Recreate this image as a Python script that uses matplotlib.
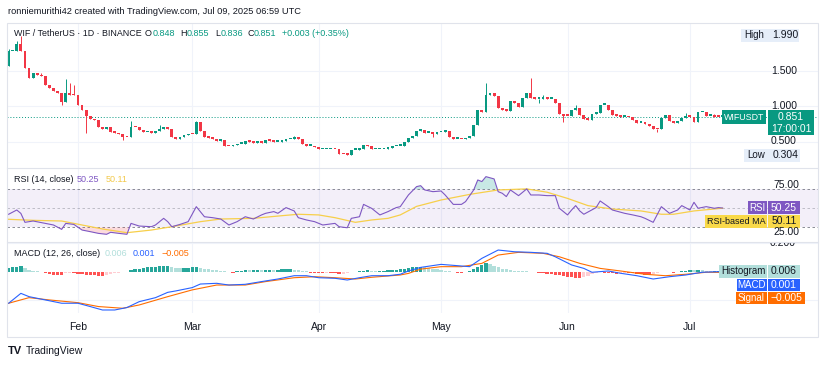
import numpy as np
import pandas as pd
import matplotlib
matplotlib.use("Agg")
import matplotlib.pyplot as plt
import matplotlib.dates as mdates
from matplotlib.patches import Rectangle
from matplotlib.transforms import blended_transform_factory

plt.rcParams['font.family'] = ['Liberation Sans', 'DejaVu Sans']

# ---- data (WIF/USDT daily, from 2025-01-15) ----
start = '2025-01-15'
first_open = 1.56
closes = [1.77, 1.77, 1.87, 1.78, 1.53, 1.39, 1.46, 1.43, 1.42, 1.30,
          1.25, 1.21, 1.18, 1.06, 1.18, 1.16, 1.15, 1.01, 0.94, 0.86,
          0.82, 0.80, 0.71, 0.68, 0.71, 0.64, 0.62, 0.60, 0.57, 0.56,
          0.71, 0.70, 0.66, 0.63, 0.63, 0.62, 0.65, 0.67, 0.71, 0.67,
          0.56, 0.53, 0.57, 0.59, 0.61, 0.60, 0.77, 0.65, 0.56, 0.55,
          0.54, 0.51, 0.52, 0.44, 0.43, 0.45, 0.47, 0.47, 0.51, 0.50,
          0.48, 0.50, 0.48, 0.52, 0.51, 0.50, 0.50, 0.51, 0.53, 0.53,
          0.56, 0.53, 0.46, 0.44, 0.44, 0.42, 0.39, 0.39, 0.39, 0.40,
          0.39, 0.33, 0.32, 0.31, 0.38, 0.38, 0.40, 0.455, 0.43, 0.39,
          0.39, 0.39, 0.40, 0.41, 0.43, 0.44, 0.44, 0.50, 0.55, 0.575,
          0.65, 0.66, 0.62, 0.62, 0.61, 0.63, 0.64, 0.65, 0.56, 0.54,
          0.54, 0.53, 0.55, 0.58, 0.73, 0.94, 0.91, 1.155, 1.18, 1.14,
          0.97, 0.94, 0.93, 1.07, 1.04, 0.98, 1.11, 1.19, 1.11, 1.10,
          1.10, 1.11, 1.10, 1.10, 1.04, 0.887, 0.865, 0.86, 0.94, 0.97,
          0.88, 0.82, 0.81, 0.89, 0.90, 1.02, 1.02, 0.94, 0.88, 0.86,
          0.85, 0.85, 0.84, 0.80, 0.76, 0.76, 0.75, 0.72, 0.68, 0.67,
          0.83, 0.87, 0.79, 0.76, 0.79, 0.83, 0.86, 0.85, 0.78, 0.91,
          0.92, 0.86, 0.86, 0.85, 0.848, 0.851]
wick_highs = {0: 1.80, 2: 1.92, 3: 1.99, 8: 1.47, 14: 1.38, 15: 1.32, 16: 1.30,
              30: 0.79, 37: 0.73, 46: 0.79, 70: 0.58, 101: 0.68, 117: 1.33,
              128: 1.39, 131: 1.15, 139: 1.01, 166: 0.90, 173: 0.89, 175: 0.855}
wick_lows = {13: 1.02, 19: 0.62, 28: 0.52, 83: 0.304, 104: 0.57, 130: 1.04,
             136: 0.78, 159: 0.64, 175: 0.836}

rsi_pts = [(0, 43.7), (2, 48.2), (3, 44.6), (4, 35.2), (6, 36.6), (9, 34.1), (11, 32.4),
           (13, 27.8), (14, 34.1), (16, 33.0), (18, 27.1), (20, 25.4), (22, 23.6), (24, 22.6),
           (25, 24.7), (27, 23.6), (29, 22.6), (30, 34.1), (32, 31.3), (35, 30.6), (36, 32.4),
           (38, 39.4), (39, 35.9), (40, 30.6), (42, 33.0), (44, 35.9), (46, 51.7), (48, 41.1),
           (50, 40.1), (52, 38.7), (54, 32.4), (56, 35.9), (58, 41.1), (60, 38.7), (62, 43.0),
           (63, 44.7), (65, 46.5), (66, 44.7), (68, 50.7), (70, 47.2), (71, 40.1), (73, 37.7),
           (75, 35.9), (77, 32.4), (80, 34.1), (81, 30.6), (83, 29.5), (84, 39.4), (86, 41.1),
           (87, 54.1), (89, 49.9), (91, 43.0), (93, 46.5), (95, 50.7), (96, 51.7), (98, 64.0),
           (100, 72.8), (101, 73.8), (102, 69.3), (104, 67.5), (106, 68.2), (107, 64.0),
           (109, 54.1), (111, 54.1), (112, 57.0), (114, 69.3), (115, 79.8), (116, 78.1),
           (117, 83.3), (119, 80.9), (120, 67.5), (121, 65.8), (122, 62.3), (123, 69.3),
           (125, 63.3), (127, 70.4), (128, 64.0), (130, 64.0), (132, 63.3), (134, 63.3),
           (135, 50.0), (137, 43.0), (138, 48.2), (139, 52.8), (140, 47.2), (141, 43.7),
           (144, 50.7), (145, 57.7), (147, 51.7), (148, 48.2), (151, 44.7), (153, 43.0),
           (155, 41.1), (156, 39.4), (158, 35.2), (160, 51.7), (161, 48.2), (162, 44.7),
           (164, 48.2), (165, 52.8), (167, 48.2), (168, 56.3), (169, 50.0), (171, 51.7),
           (173, 50.0), (174, 50.7), (175, 50.25)]
rsi_ma_pts = [(0, 38.4), (6, 37.3), (13, 36.6), (18, 32.4), (23, 28.2), (29, 24.3), (35, 27.1),
              (40, 30.6), (47, 35.9), (52, 38.7), (60, 39.4), (67, 42.2), (71, 43.7), (76, 43.0),
              (80, 40.1), (85, 35.2), (89, 37.7), (93, 39.4), (96, 43.0), (100, 52.0),
              (106, 58.7), (113, 64.6), (120, 69.3), (127, 70.4), (132, 66.9), (137, 60.4),
              (142, 52.8), (148, 49.2), (155, 47.2), (160, 43.7), (163, 43.7), (168, 47.2),
              (175, 50.11)]

macd_pts = [(0, -0.220), (3, -0.151), (5, -0.174), (9, -0.197), (13, -0.220), (17, -0.220),
            (20, -0.243), (23, -0.267), (26, -0.267), (29, -0.250), (32, -0.209), (36, -0.181),
            (39, -0.144), (41, -0.134), (45, -0.111), (47, -0.086), (51, -0.081), (54, -0.093),
            (58, -0.088), (62, -0.069), (66, -0.051), (70, -0.028), (73, -0.028), (76, -0.042),
            (80, -0.046), (83, -0.058), (86, -0.042), (89, -0.028), (93, -0.028), (96, -0.018),
            (98, 0.005), (101, 0.030), (106, 0.051), (110, 0.042), (113, 0.035), (116, 0.093),
            (120, 0.151), (124, 0.139), (128, 0.135), (132, 0.128), (134, 0.104), (138, 0.047),
            (141, 0.023), (143, -0.004), (147, 0.005), (150, -0.011), (154, -0.028),
            (158, -0.051), (162, -0.035), (166, -0.023), (170, -0.004), (175, 0.001)]
signal_pts = [(0, -0.220), (5, -0.181), (10, -0.197), (17, -0.216), (22, -0.243), (28, -0.255),
              (32, -0.232), (39, -0.174), (45, -0.127), (51, -0.093), (58, -0.093), (63, -0.069),
              (70, -0.042), (75, -0.035), (80, -0.042), (85, -0.051), (89, -0.039), (96, -0.023),
              (98, -0.012), (101, 0.018), (106, 0.035), (111, 0.035), (116, 0.058), (120, 0.116),
              (125, 0.135), (131, 0.128), (135, 0.104), (140, 0.058), (145, 0.023), (150, 0.005),
              (156, -0.018), (161, -0.028), (166, -0.018), (171, -0.004), (175, -0.005)]
hist = [0.028, 0.030, 0.035, 0.040, 0.025, 0.015, 0.008, 0.002, -0.004, -0.010,
        -0.014, -0.020, -0.024, -0.025, -0.012, -0.008, -0.010, -0.013, -0.016, -0.021,
        -0.024, -0.025, -0.027, -0.028, -0.020, -0.014, -0.010, -0.007, -0.005, -0.003,
        0.010, 0.016, 0.022, 0.026, 0.030, 0.033, 0.035, 0.038, 0.040, 0.042,
        0.030, 0.026, 0.024, 0.025, 0.026, 0.030, 0.036, 0.028, 0.022, 0.018,
        0.014, 0.010, 0.006, 0.003, -0.004, -0.008, 0.004, 0.008, 0.012, 0.011,
        0.012, 0.013, 0.012, 0.014, 0.015, 0.014, 0.015, 0.016, 0.018, 0.019,
        0.014, 0.010, 0.006, 0.002, -0.006, -0.009, -0.010, -0.011, -0.008, -0.010,
        -0.012, -0.014, -0.013, -0.008, -0.005, -0.002, 0.002, 0.006, 0.010, 0.008,
        0.006, 0.007, 0.008, 0.010, 0.012, 0.014, 0.016, 0.020, 0.026, 0.030,
        0.034, 0.036, 0.030, 0.024, 0.020, 0.016, 0.012, 0.008, 0.004, -0.004,
        -0.008, -0.008, -0.004, 0.004, 0.020, 0.034, 0.046, 0.058, 0.052, 0.040,
        0.030, 0.022, 0.016, 0.012, 0.008, 0.005, 0.004, 0.003, 0.001, -0.004,
        -0.008, -0.012, -0.015, -0.018, -0.020, -0.026, -0.032, -0.036, -0.040, -0.044,
        -0.046, -0.040, -0.030, -0.018, -0.008, -0.002, -0.006, -0.010, -0.012, -0.013,
        -0.012, -0.010, -0.011, -0.012, -0.014, -0.018, -0.020, -0.022, -0.018, -0.008,
        -0.004, -0.002, -0.004, -0.006, -0.002, 0.004, 0.008, 0.012, 0.010, 0.012,
        0.010, 0.008, 0.006, 0.006, 0.006, 0.006]

month_starts = ['2025-02-01', '2025-03-01', '2025-04-01', '2025-05-01', '2025-06-01', '2025-07-01']
month_labels = ['Feb', 'Mar', 'Apr', 'May', 'Jun', 'Jul']
price_ticks = [1.5, 1.0, 0.5]
price_tick_labels = ['1.500', '1.000', '0.500']

GREEN = '#089981'
RED = '#f23645'
DARK = '#131722'
GREY = '#787b86'

W, H = 825, 365
fig = plt.figure(figsize=(W / 100, H / 100), dpi=100)
fig.patch.set_facecolor('white')


def fx(px):
    return px / W


def fy(py):
    return 1 - py / H


def pane(x0, y0, x1, y1):
    ax = fig.add_axes([fx(x0), fy(y1), (x1 - x0) / W, (y1 - y0) / H])
    ax.set_facecolor('none')
    for s in ax.spines.values():
        s.set_visible(False)
    ax.set_xticks([])
    ax.set_yticks([])
    return ax


def box(x0, y0, x1, y1, fc):
    fig.patches.append(Rectangle((fx(x0), fy(y1)), (x1 - x0) / W, (y1 - y0) / H,
                                 transform=fig.transFigure, facecolor=fc,
                                 edgecolor='none', zorder=5))


def label(px, py, s, color=DARK, size=7.5, ha='center', **kw):
    return fig.text(fx(px), fy(py), s, color=color, fontsize=size, ha=ha,
                    va='center', zorder=6, **kw)


renderer = fig.canvas.get_renderer()


def pair(px, py, a, b, ca, cb, size=6.5):
    t = label(px, py, a, ca, size, ha='left')
    w = t.get_window_extent(renderer).width
    label(px + w + 0.5, py, b, cb, size, ha='left')


t0 = mdates.date2num(pd.Timestamp(start))
n = len(closes)
days = t0 + np.arange(n)
xlim = (t0 - 0.4, t0 + 198.4)
mdays = [mdates.date2num(pd.Timestamp(m)) for m in month_starts]

ax_p = pane(7, 23, 818, 168)
ax_r = pane(7, 168, 818, 242)
ax_m = pane(7, 242, 818, 313)
for ax in (ax_p, ax_r, ax_m):
    ax.set_xlim(*xlim)
    for m in mdays:
        ax.axvline(m, color='#f0f3fa', lw=0.8, zorder=0)

# ---- price pane ----
ax_p.set_ylim(0.127, 2.169)
for p in price_ticks:
    ax_p.axhline(p, color='#f0f3fa', lw=0.8, zorder=0)
opens = [first_open] + closes[:-1]
cols = [GREEN if c >= o else RED for o, c in zip(opens, closes)]
bottoms = [min(o, c) for o, c in zip(opens, closes)]
heights = [max(abs(c - o), 0.022) for o, c in zip(opens, closes)]
his = [wick_highs.get(i, max(o, c)) for i, (o, c) in enumerate(zip(opens, closes))]
los = [wick_lows.get(i, min(o, c)) for i, (o, c) in enumerate(zip(opens, closes))]
ax_p.vlines(days, los, his, colors=cols, lw=0.7, zorder=2)
ax_p.bar(days, heights, bottom=bottoms, width=0.7, color=cols, linewidth=0, zorder=3)
ax_p.axhline(closes[-1], color=GREEN, lw=0.7, ls=(0, (1, 2)), zorder=1)

# ---- RSI pane ----
ax_r.set_ylim(14.5, 92.4)
ax_r.axhspan(30, 70, color='#7e57c2', alpha=0.09, lw=0, zorder=0)
for lv, a in ((70, 1), (50, 0.5), (30, 1)):
    ax_r.axhline(lv, color=GREY, lw=0.6, ls=(0, (3, 3)), alpha=a, zorder=1)
rd = t0 + np.array([p[0] for p in rsi_pts])
rv = np.array([p[1] for p in rsi_pts])
ax_r.fill_between(rd, rv, 70, where=rv > 70, interpolate=True, color='#26a69a', alpha=0.25, lw=0)
ax_r.fill_between(rd, rv, 30, where=rv < 30, interpolate=True, color='#f23645', alpha=0.18, lw=0)
ax_r.plot(t0 + np.array([p[0] for p in rsi_ma_pts]), [p[1] for p in rsi_ma_pts],
          color='#f7cf4a', lw=0.9, zorder=2)
ax_r.plot(rd, rv, color='#7e57c2', lw=0.8, zorder=3)

# ---- MACD pane ----
ax_m.set_ylim(-0.288, 0.207)
for lv in (0.2, -0.2):
    ax_m.axhline(lv, color='#f0f3fa', lw=0.8, zorder=0)
hcols = []
prev = 0
for h in hist:
    if h >= 0:
        hcols.append('#26a69a' if h >= prev else '#b2dfdb')
    else:
        hcols.append('#ff5252' if h <= prev else '#ffcdd2')
    prev = h
ax_m.bar(days, hist, width=0.8, color=hcols, linewidth=0, zorder=1)
ax_m.plot(t0 + np.array([p[0] for p in signal_pts]), [p[1] for p in signal_pts],
          color='#ff6d00', lw=0.8, zorder=2)
ax_m.plot(t0 + np.array([p[0] for p in macd_pts]), [p[1] for p in macd_pts],
          color='#2962ff', lw=0.8, zorder=3)
tr = blended_transform_factory(ax_m.transAxes, ax_m.transData)
ax_m.text((783 - 7) / 811, 0.2, '0.200', transform=tr, ha='center', va='center',
          fontsize=7.5, color=DARK, clip_on=True)

# ---- frame and separators ----
fig.patches.append(Rectangle((fx(7), fy(337)), 811 / W, 314 / H, transform=fig.transFigure,
                             facecolor='none', edgecolor='#e0e3eb', lw=0.8, zorder=4))
for yy in (168, 242):
    fig.lines.append(plt.Line2D([fx(7), fx(818)], [fy(yy), fy(yy)], transform=fig.transFigure,
                                color='#e0e3eb', lw=0.8, zorder=4))

# ---- texts ----
label(8, 12, 'ronniemurithi42 created with TradingView.com, Jul 09, 2025 06:59 UTC', DARK, 6.7, ha='left')
label(14, 33, 'WIF / TetherUS · 1D · BINANCE', DARK, 6.4, ha='left')
pair(145, 33, 'O', '0.848', DARK, GREEN)
pair(180, 33, 'H', '0.855', DARK, GREEN)
pair(215, 33, 'L', '0.836', DARK, GREEN)
pair(247, 33, 'C', '0.851', DARK, GREEN)
label(282, 33, '+0.003 (+0.35%)', GREEN, 6.5, ha='left')

label(14, 180, 'RSI (14, close)', DARK, 6.5, ha='left')
label(77, 180, '50.25', '#7e57c2', 6.5, ha='left')
label(106, 180, '50.11', '#f2c94c', 6.5, ha='left')

label(14, 254, 'MACD (12, 26, close)', DARK, 6.5, ha='left')
label(105, 254, '0.006', '#b2dfdb', 6.5, ha='left')
label(133, 254, '0.001', '#2962ff', 6.5, ha='left')
label(162, 254, '\u22120.005', '#ff6d00', 6.5, ha='left')

# price scale
for p, s in zip(price_ticks, price_tick_labels):
    yy = 106 + (1.0 - p) * 71
    label(784, yy, s)
box(741, 29, 799, 42, '#e6eef9')
label(754, 35.5, 'High', DARK, 7)
label(785, 35.5, '1.990', DARK, 7.5)
box(744, 149, 800, 162, '#e6eef9')
label(756, 155.5, 'Low', DARK, 7)
label(786, 155.5, '0.304', DARK, 7.5)
box(722, 110, 766, 124, GREEN)
label(744, 117, 'WIFUSDT', 'white', 6.4)
box(768, 110, 814, 135, GREEN)
label(791, 117, '0.851', 'white', 7.5)
label(791, 129, '17:00:01', 'white', 7.5)

# RSI scale
label(786, 184.6, '75.00')
label(786, 232, '25.00')
box(748, 201, 767, 214, '#7e57c2')
label(757.5, 207.5, 'RSI', 'white', 7)
box(768, 201, 800, 214, '#7e57c2')
label(784, 207.5, '50.25', 'white', 7.5)
box(705, 215, 767, 228, '#f9d949')
label(736, 221.5, 'RSI-based MA', DARK, 6.5)
box(768, 215, 800, 228, '#f9d949')
label(784, 221.5, '50.11', DARK, 7.5)

# MACD scale
box(719, 265, 767, 278, '#b2dfdb')
label(743, 271.5, 'Histogram', DARK, 7)
box(768, 265, 800, 278, '#b2dfdb')
label(784, 271.5, '0.006', DARK, 7.5)
box(737, 279, 767, 291, '#2962ff')
label(752, 285, 'MACD', 'white', 7)
box(768, 279, 800, 291, '#2962ff')
label(784, 285, '0.001', 'white', 7.5)
box(736, 292, 767, 304, '#ff6d00')
label(751.5, 298, 'Signal', 'white', 7)
box(768, 292, 805, 304, '#ff6d00')
label(786.5, 298, '\u22120.005', 'white', 7.5)

# time axis
for m, s in zip(mdays, month_labels):
    xpx = 7 + (m - xlim[0]) / (xlim[1] - xlim[0]) * 811
    label(xpx, 327.5, s, DARK, 7.5)

# footer
label(8, 351, 'TV', DARK, 8, ha='left', fontweight='heavy')
label(26, 351, 'TradingView', DARK, 7.5, ha='left')

fig.savefig('out.png', dpi=100, facecolor='white')
